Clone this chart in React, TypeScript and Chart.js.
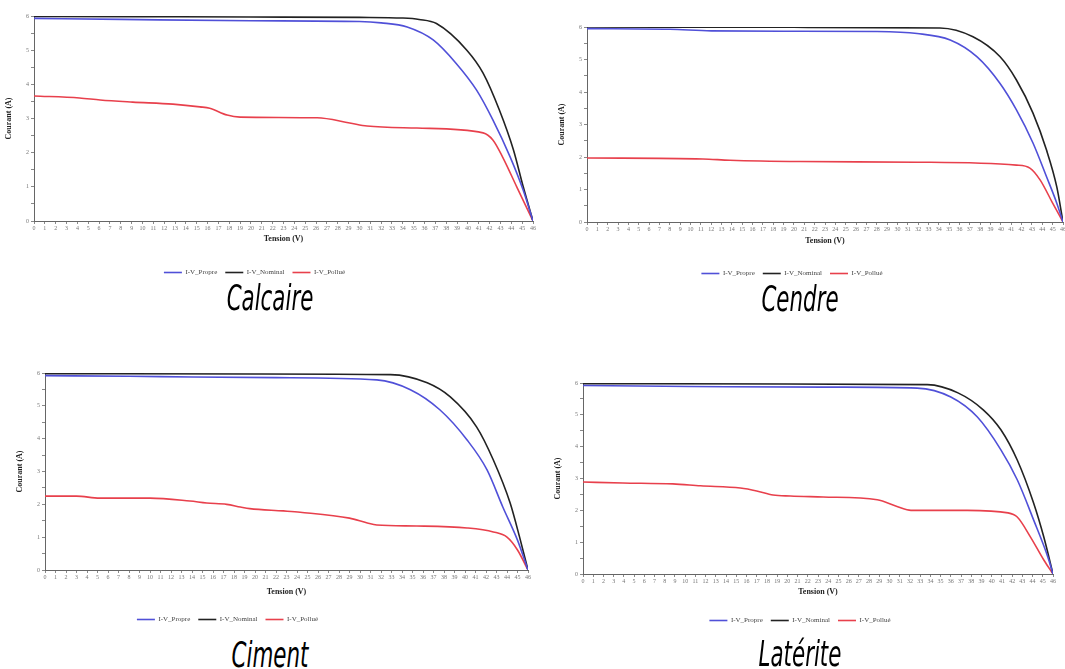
import React, { useEffect, useRef } from 'react';
import { Chart, registerables } from 'chart.js';
Chart.register(...registerables);

// ---------- data (Tension V, Courant A) ----------
const X_TICK_MAX = 46;
const Y_TICK_MAX = 6;
const LEGEND_LABELS = ['I-V_Propre', 'I-V_Nominal', 'I-V_Pollué'];
const CAPTIONS = ['Calcaire', 'Cendre', 'Ciment', 'Latérite'];

// Calcaire
const CALCAIRE_NOMINAL_V = [0, 10, 20, 30, 34, 35.5, 37.1, 39.9, 41.4, 42.9, 44.2, 45.1, 46];
const CALCAIRE_NOMINAL_I = [5.99, 5.98, 5.97, 5.96, 5.94, 5.9, 5.78, 5.0, 4.33, 3.25, 2.08, 1.0, 0];
const CALCAIRE_PROPRE_V = [0, 8, 20, 30, 32, 34.4, 36.8, 38.9, 40.8, 42.3, 43.9, 45.1, 46];
const CALCAIRE_PROPRE_I = [5.93, 5.9, 5.86, 5.84, 5.8, 5.68, 5.3, 4.62, 3.83, 2.96, 1.87, 0.9, 0];
const CALCAIRE_POLLUE_V = [0, 4.2, 6.1, 9.1, 12.8, 15.3, 16.2, 17.8, 19, 26.1, 29.1, 30.7, 35.3, 41.4, 42.3, 43.2, 44.5, 46];
const CALCAIRE_POLLUE_I = [3.66, 3.6, 3.54, 3.48, 3.42, 3.34, 3.3, 3.1, 3.04, 3.02, 2.87, 2.78, 2.72, 2.58, 2.37, 1.87, 1.0, 0];

// Cendre
const CENDRE_NOMINAL_V = [0, 20, 34.1, 37.3, 39.9, 41.5, 43.1, 44.4, 45.4, 46];
const CENDRE_NOMINAL_I = [6.0, 5.99, 5.97, 5.7, 5.09, 4.37, 3.35, 2.22, 1.08, 0];
const CENDRE_PROPRE_V = [0, 8, 12, 20, 28, 31.9, 35.1, 37.7, 39.9, 41.5, 43.1, 44.4, 45.4, 46];
const CENDRE_PROPRE_I = [5.95, 5.93, 5.88, 5.87, 5.86, 5.8, 5.6, 5.08, 4.27, 3.45, 2.43, 1.4, 0.58, 0];
const CENDRE_POLLUE_V = [0, 11.2, 13.8, 20.6, 31.9, 41.5, 42.8, 43.8, 45, 46];
const CENDRE_POLLUE_I = [1.97, 1.94, 1.9, 1.86, 1.84, 1.75, 1.66, 1.29, 0.58, 0];

// Ciment
const CIMENT_NOMINAL_V = [0, 20, 32.9, 36.4, 38.6, 41.1, 42.7, 44.3, 45.2, 46];
const CIMENT_NOMINAL_I = [5.98, 5.97, 5.95, 5.7, 5.27, 4.36, 3.35, 2.04, 1.0, 0];
const CIMENT_PROPRE_V = [0, 8, 14, 22, 31.6, 34.8, 37.6, 40.2, 42.1, 43.6, 45, 46];
const CIMENT_PROPRE_I = [5.92, 5.9, 5.88, 5.86, 5.79, 5.49, 4.88, 3.96, 3.05, 1.92, 0.91, 0];
const CIMENT_POLLUE_V = [0, 3, 5.2, 10, 13.8, 15.4, 17.3, 18.6, 19.5, 22.7, 24.3, 29, 30.7, 31.6, 35.4, 40.2, 42.7, 44, 45, 46];
const CIMENT_POLLUE_I = [2.25, 2.25, 2.19, 2.19, 2.1, 2.04, 2.0, 1.92, 1.87, 1.8, 1.76, 1.58, 1.43, 1.37, 1.34, 1.28, 1.16, 1.0, 0.61, 0];

// Latérite
const LATERITE_NOMINAL_V = [0, 20, 33.7, 36.7, 39.2, 40.9, 42.5, 44.1, 45.1, 46];
const LATERITE_NOMINAL_I = [5.98, 5.97, 5.95, 5.69, 5.15, 4.53, 3.58, 2.23, 1.16, 0];
const LATERITE_PROPRE_V = [0, 8, 14, 25, 32.7, 36, 38.6, 40.9, 42.5, 44.1, 45.5, 46];
const LATERITE_PROPRE_I = [5.92, 5.9, 5.88, 5.87, 5.84, 5.56, 4.93, 3.9, 2.96, 1.7, 0.53, 0];
const LATERITE_POLLUE_V = [0, 3.9, 8.8, 11.5, 15.4, 17, 18.6, 20.3, 23.5, 28.8, 30.8, 32.1, 37.6, 41.6, 42.5, 43.8, 45.1, 46];
const LATERITE_POLLUE_I = [2.89, 2.86, 2.83, 2.77, 2.7, 2.61, 2.48, 2.45, 2.42, 2.33, 2.11, 2.0, 2.0, 1.92, 1.79, 1.16, 0.44, 0];

const COLORS = ['#5050d8', '#222222', '#e8404c'];

const zip = (xs: number[], ys: number[]) => xs.map((x, i) => ({ x, y: ys[i] }));

type PanelProps = {
  series: [number[], number[]][];
  left: number; top: number; width: number; height: number;
  axisH: number; titlePad: number; legendShift: number;
};

const legendShiftPlugin = {
  id: 'legendShift',
  beforeDraw(chart: any, _args: any, opts: any) {
    const lg = chart.legend;
    if (!lg || !opts || !opts.dx) return;
    if (lg._shifted !== chart._resketchLayoutId) {
      lg.left += opts.dx;
      lg.right += opts.dx;
      lg._shifted = chart._resketchLayoutId;
    }
  },
  afterLayout(chart: any) {
    chart._resketchLayoutId = (chart._resketchLayoutId || 0) + 1;
  },
};

function Panel({ series, left, top, width, height, axisH, titlePad, legendShift }: PanelProps) {
  const ref = useRef<HTMLCanvasElement>(null);
  useEffect(() => {
    if (!ref.current) return;
    const chart = new Chart(ref.current, {
      type: 'line',
      data: {
        datasets: series.map(([xs, ys], i) => ({
          label: LEGEND_LABELS[i],
          data: zip(xs, ys),
          borderColor: COLORS[i],
          backgroundColor: COLORS[i],
          borderWidth: 1.6,
          pointRadius: 0,
          pointStyle: 'line',
          cubicInterpolationMode: 'monotone' as const,
          fill: false,
        })),
      },
      plugins: [legendShiftPlugin],
      options: {
        animation: false,
        responsive: false,
        maintainAspectRatio: false,
        layout: { padding: { top: 8, right: 4, left: 0, bottom: 0 } },
        plugins: {
          tooltip: { enabled: false },
          legendShift: { dx: legendShift },
          legend: {
            position: 'bottom',
            labels: {
              usePointStyle: true,
              pointStyle: 'line',
              pointStyleWidth: 18,
              padding: 8,
              color: '#444',
              font: { family: "'Liberation Serif', serif", size: 7 },
            },
          },
        },
        scales: {
          x: {
            type: 'linear',
            min: 0,
            max: X_TICK_MAX,
            afterFit: (s: any) => { s.height = axisH; s.paddingLeft = 0; s.paddingRight = 0; },
            ticks: {
              stepSize: 1,
              autoSkip: false,
              maxRotation: 0,
              minRotation: 0,
              padding: 1,
              color: '#777',
              font: { family: "'Liberation Serif', serif", size: 6 },
            },
            grid: { display: true, drawOnChartArea: false, tickLength: 3, color: '#888' },
            border: { color: '#666', width: 1 },
            title: {
              display: true,
              text: 'Tension (V)',
              color: '#222',
              padding: { top: 0, bottom: titlePad },
              font: { family: "'Liberation Serif', serif", size: 8, weight: 'bold' },
            },
          },
          y: {
            min: 0,
            max: Y_TICK_MAX,
            afterFit: (s: any) => { s.width = 30; s.paddingTop = 0; s.paddingBottom = 0; },
            ticks: {
              stepSize: 0.5,
              padding: 2,
              color: '#777',
              font: { family: "'Liberation Serif', serif", size: 6 },
              callback: (v: any) => (Number.isInteger(v) ? String(v) : ''),
            },
            grid: { display: true, drawOnChartArea: false, tickLength: 3, color: '#888' },
            border: { color: '#666', width: 1 },
            title: {
              display: true,
              text: 'Courant (A)',
              color: '#222',
              padding: 0,
              font: { family: "'Liberation Serif', serif", size: 8, weight: 'bold' },
            },
          },
        },
      } as any,
    });
    return () => chart.destroy();
  }, []);
  return (
    <canvas
      ref={ref}
      width={width}
      height={height}
      style={{ position: 'absolute', left, top, width, height }}
    />
  );
}

const captionStyle = (cx: number, top: number): React.CSSProperties => ({
  position: 'absolute',
  left: cx - 150,
  top,
  width: 300,
  textAlign: 'center',
  fontFamily: "'DejaVu Sans Condensed', 'DejaVu Sans', sans-serif",
  fontStretch: 'condensed',
  fontStyle: 'italic',
  fontSize: 36,
  lineHeight: '40px',
  color: '#000',
  transform: 'scaleX(0.66)',
});

export default function App() {
  return (
    <div style={{ position: 'fixed', left: 0, top: 0, width: 1065, height: 669, background: '#fff', overflow: 'hidden' }}>
      <Panel
        series={[[CALCAIRE_PROPRE_V, CALCAIRE_PROPRE_I], [CALCAIRE_NOMINAL_V, CALCAIRE_NOMINAL_I], [CALCAIRE_POLLUE_V, CALCAIRE_POLLUE_I]]}
        left={4} top={8} width={533} height={278} axisH={40} titlePad={17} legendShift={-14}
      />
      <Panel
        series={[[CENDRE_PROPRE_V, CENDRE_PROPRE_I], [CENDRE_NOMINAL_V, CENDRE_NOMINAL_I], [CENDRE_POLLUE_V, CENDRE_POLLUE_I]]}
        left={557} top={19} width={510} height={268} axisH={40} titlePad={16} legendShift={-18}
      />
      <Panel
        series={[[CIMENT_PROPRE_V, CIMENT_PROPRE_I], [CIMENT_NOMINAL_V, CIMENT_NOMINAL_I], [CIMENT_POLLUE_V, CIMENT_POLLUE_I]]}
        left={15} top={365} width={517} height={268} axisH={38} titlePad={11} legendShift={-44}
      />
      <Panel
        series={[[LATERITE_PROPRE_V, LATERITE_PROPRE_I], [LATERITE_NOMINAL_V, LATERITE_NOMINAL_I], [LATERITE_POLLUE_V, LATERITE_POLLUE_I]]}
        left={553} top={375} width={504} height={259} axisH={35} titlePad={12} legendShift={-3}
      />
      <div style={captionStyle(270, 278)}>{CAPTIONS[0]}</div>
      <div style={captionStyle(800, 279)}>{CAPTIONS[1]}</div>
      <div style={captionStyle(270, 635)}>{CAPTIONS[2]}</div>
      <div style={captionStyle(800, 634)}>{CAPTIONS[3]}</div>
    </div>
  );
}
